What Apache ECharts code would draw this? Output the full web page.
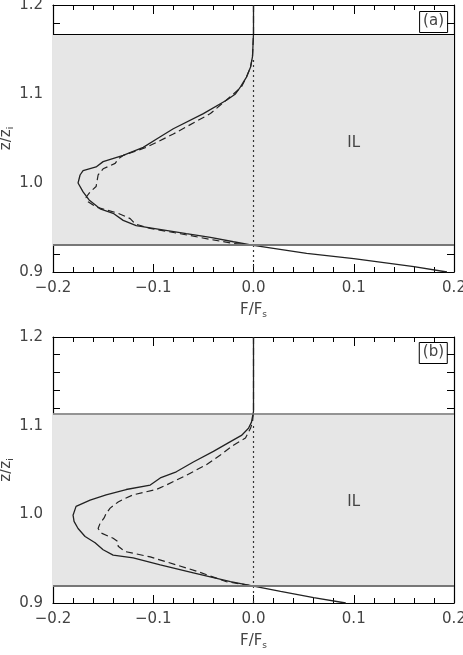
<!DOCTYPE html>
<html>
<head>
<meta charset="utf-8">
<script src="https://cdn.jsdelivr.net/npm/echarts@6/dist/echarts.min.js"></script>
<style>html,body{margin:0;padding:0;background:#fff}#c{width:463px;height:655px}</style>
</head>
<body>
<div id="c"></div>
<script>
// Panel (a) data: [F/Fs, z/zi]
var solidA = [[0,1.2],[0,1.168],[-0.0005,1.155],[-0.001,1.142],[-0.003,1.130],[-0.007,1.119],[-0.013,1.108],[-0.018,1.100],[-0.027,1.093],[-0.050,1.078],[-0.080,1.061],[-0.093,1.052],[-0.110,1.040],[-0.130,1.031],[-0.150,1.024],[-0.157,1.018],[-0.170,1.014],[-0.173,1.009],[-0.175,1.000],[-0.170,0.990],[-0.164,0.981],[-0.153,0.971],[-0.140,0.966],[-0.130,0.958],[-0.117,0.952],[-0.100,0.949],[-0.067,0.943],[-0.043,0.939],[-0.020,0.934],[0,0.930],[0.053,0.921],[0.100,0.915],[0.160,0.906],[0.193,0.900]];
var dashA = [[0,1.2],[0,1.168],[-0.0005,1.155],[-0.001,1.142],[-0.003,1.130],[-0.007,1.119],[-0.012,1.108],[-0.020,1.100],[-0.043,1.078],[-0.080,1.055],[-0.107,1.040],[-0.130,1.031],[-0.135,1.027],[-0.138,1.022],[-0.150,1.016],[-0.155,1.009],[-0.157,0.996],[-0.163,0.990],[-0.167,0.984],[-0.165,0.979],[-0.157,0.973],[-0.135,0.966],[-0.123,0.960],[-0.118,0.954],[-0.103,0.949],[-0.073,0.943],[-0.040,0.936],[-0.020,0.932],[0,0.930]];
// Panel (b) data
var solidB = [[0,1.2],[0,1.116],[-0.002,1.104],[-0.005,1.097],[-0.012,1.089],[-0.023,1.082],[-0.040,1.071],[-0.060,1.059],[-0.077,1.048],[-0.093,1.041],[-0.103,1.033],[-0.127,1.028],[-0.147,1.022],[-0.163,1.016],[-0.177,1.009],[-0.180,0.999],[-0.179,0.992],[-0.175,0.984],[-0.168,0.975],[-0.158,0.968],[-0.150,0.960],[-0.140,0.954],[-0.120,0.951],[-0.093,0.943],[-0.060,0.934],[-0.023,0.924],[0,0.919],[0.027,0.913],[0.060,0.906],[0.092,0.900]];
var dashB = [[0,1.2],[0,1.116],[-0.001,1.104],[-0.003,1.097],[-0.008,1.086],[-0.020,1.078],[-0.033,1.067],[-0.047,1.056],[-0.067,1.044],[-0.087,1.033],[-0.097,1.028],[-0.120,1.022],[-0.128,1.018],[-0.135,1.014],[-0.143,1.007],[-0.147,1.001],[-0.149,0.996],[-0.153,0.990],[-0.155,0.984],[-0.152,0.979],[-0.140,0.973],[-0.135,0.969],[-0.135,0.964],[-0.128,0.958],[-0.103,0.952],[-0.077,0.943],[-0.057,0.936],[-0.027,0.924],[-0.010,0.921],[0,0.919]];
// Interfacial layer bounds
var ilA = [0.931, 1.167];
var ilB = [0.919, 1.114];
var zeroTopA = 1.14, zeroTopB = 1.10;
var xTicks = [-0.2, -0.1, 0.0, 0.1, 0.2];
var yTicks = [0.9, 1.0, 1.1, 1.2];

var txt = '#444';
var fontFam = 'DejaVu Sans';
function xFmt(v){ return (v<0?'\u2212':'') + Math.abs(v).toFixed(1); }
function yFmt(v){ return v.toFixed(1); }

function axesFor(gi){
  var common = {min:-0.2, max:0.2, interval:0.1, gridIndex:gi, splitLine:{show:false},
    axisLine:{onZero:false, lineStyle:{color:'#000', width:1.2}}};
  var xb = Object.assign({}, common, {type:'value', position:'bottom',
    axisTick:{inside:true, length:8, lineStyle:{color:'#000'}},
    minorTick:{show:true, splitNumber:5, length:5, lineStyle:{color:'#000'}},
    axisLabel:{color:txt, fontSize:15, fontFamily:fontFam, margin:9, formatter:xFmt},
    name:'{a|F/F}{s|s}', nameLocation:'middle', nameGap:30, nameMoveOverlap:false,
    nameTextStyle:{rich:{a:{fontSize:15, color:txt, fontFamily:fontFam}, s:{fontSize:9, color:txt, fontFamily:fontFam, verticalAlign:'bottom', padding:[8,0,0,0]}}}});
  var xt = Object.assign({}, common, {type:'value', position:'top',
    axisTick:{inside:true, length:9, lineStyle:{color:'#000'}},
    minorTick:{show:true, splitNumber:5, length:5, lineStyle:{color:'#000'}},
    axisLabel:{show:false}});
  var yc = {min:0.9, max:1.2, interval:0.1, gridIndex:gi, splitLine:{show:false},
    axisLine:{onZero:false, lineStyle:{color:'#000', width:1.2}}};
  var yl = Object.assign({}, yc, {type:'value', position:'left',
    axisTick:{inside:true, length:13, lineStyle:{color:'#000'}},
    minorTick:{show:true, splitNumber:5, length:7, lineStyle:{color:'#000'}},
    axisLabel:{color:txt, fontSize:15, fontFamily:fontFam, margin:10, formatter:yFmt},
    name:'{a|z/z}{s|i}', nameLocation:'middle', nameGap:38, nameMoveOverlap:false,
    nameTextStyle:{rich:{a:{fontSize:15, color:txt, fontFamily:fontFam}, s:{fontSize:9, color:txt, fontFamily:fontFam, verticalAlign:'bottom', padding:[8,0,0,0]}}}});
  var yr = Object.assign({}, yc, {type:'value', position:'right',
    axisTick:{inside:true, length:13, lineStyle:{color:'#000'}},
    minorTick:{show:true, splitNumber:5, length:7, lineStyle:{color:'#000'}},
    axisLabel:{show:false}});
  return {x:[xb, xt], y:[yl, yr]};
}
var A = axesFor(0), B = axesFor(1);

function panelSeries(xi, yi, solid, dash, il, zeroTop, ilLabelZ, topColor, topW) {
  return [
    {type:'line', xAxisIndex:xi, yAxisIndex:yi, data:[], silent:true, z:1,
      markArea:{silent:true, itemStyle:{color:'#e6e6e6'}, data:[[{yAxis:il[0]},{yAxis:il[1]}]]},
      markLine:{silent:true, symbol:'none', precision:4, label:{show:false},
        data:[{yAxis:il[0], lineStyle:{color:'#777', width:2, type:'solid'}},
              {yAxis:il[1], lineStyle:{color:topColor, width:topW, type:'solid'}}]},
      markPoint:{silent:true, symbolSize:0, label:{show:true, formatter:'IL', color:txt, fontSize:15, fontFamily:fontFam},
        data:[{coord:[0.1, ilLabelZ]}]}},
    {type:'line', xAxisIndex:xi, yAxisIndex:yi, data:[[0,0.9],[0,zeroTop]], symbol:'none', silent:true, z:2,
      lineStyle:{color:'#333', width:1.2, type:[2,3]}},
    {type:'line', xAxisIndex:xi, yAxisIndex:yi, data:dash, symbol:'none', silent:true, z:3,
      lineStyle:{color:'#222', width:1.2, type:[7,4]}},
    {type:'line', xAxisIndex:xi, yAxisIndex:yi, data:solid, symbol:'none', silent:true, z:4,
      lineStyle:{color:'#222', width:1.3}}
  ];
}

var chart = echarts.init(document.getElementById('c'), null, {renderer:'canvas'});
chart.setOption({
  animation:false,
  backgroundColor:'#fff',
  title:[
    {text:'(a)', right:15, top:11, padding:[3,4,4,4], borderWidth:1, borderColor:'#000',
      textStyle:{fontSize:15, fontWeight:'normal', color:txt, fontFamily:fontFam}},
    {text:'(b)', right:15, top:342, padding:[3,4,4,4], borderWidth:1, borderColor:'#000',
      textStyle:{fontSize:15, fontWeight:'normal', color:txt, fontFamily:fontFam}}
  ],
  grid:[
    {left:53, top:5, width:401, height:267, containLabel:false, outerBoundsMode:'none'},
    {left:53, top:337, width:401, height:266, containLabel:false, outerBoundsMode:'none'}
  ],
  xAxis:[A.x[0], A.x[1], Object.assign({}, B.x[0], {gridIndex:1}), Object.assign({}, B.x[1], {gridIndex:1})],
  yAxis:[A.y[0], A.y[1], Object.assign({}, B.y[0], {gridIndex:1}), Object.assign({}, B.y[1], {gridIndex:1})],
  series: [].concat(
    panelSeries(0, 0, solidA, dashA, ilA, zeroTopA, 1.045, '#000', 1),
    panelSeries(2, 2, solidB, dashB, ilB, zeroTopB, 1.014, '#777', 1.6)
  )
});
</script>
</body>
</html>
